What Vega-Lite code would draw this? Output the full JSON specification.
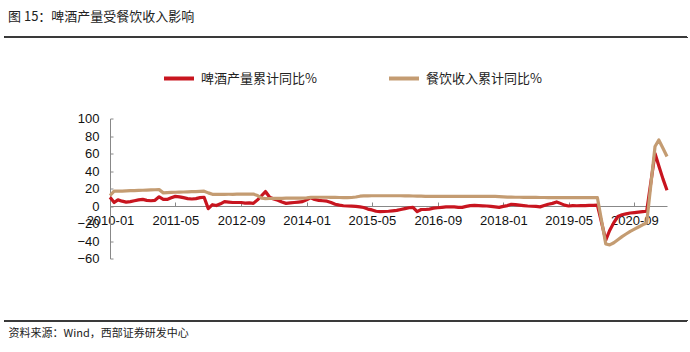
{
  "$schema": "https://vega.github.io/schema/vega-lite/v6.json",
  "autosize": {"type": "none"},
  "width": 557,
  "height": 140,
  "padding": {"left": 110, "top": 118.5, "right": 23, "bottom": 93.5},
  "background": "white",
  "config": {
    "view": {"stroke": null},
    "axis": {"labelOverlap": false, "labelFlush": false, "grid": false}
  },
  "title": {
    "text": "图 15：啤酒产量受餐饮收入影响",
    "anchor": "start",
    "frame": "group",
    "dx": -102,
    "offset": 12,
    "font": "Noto Sans CJK SC",
    "fontSize": 13,
    "fontWeight": "normal",
    "color": "#222222"
  },
  "data": {
    "values": [
      {"d":"2010-01","a":10,"b":12},{"d":"2010-02","a":4,"b":17},{"d":"2010-03","a":7,"b":17},{"d":"2010-04","a":5.5,"b":17.1},{"d":"2010-05","a":4.5,"b":17.3},{"d":"2010-06","a":5,"b":17.5},{"d":"2010-07","a":6,"b":17.6},{"d":"2010-08","a":7,"b":17.8},{"d":"2010-09","a":7.5,"b":18},{"d":"2010-10","a":6.5,"b":18.2},{"d":"2010-11","a":6,"b":18.4},{"d":"2010-12","a":6.5,"b":18.6},
      {"d":"2011-01","a":10.5,"b":18.7},{"d":"2011-02","a":7.5,"b":15},{"d":"2011-03","a":7.5,"b":15.3},{"d":"2011-04","a":9.5,"b":15.5},{"d":"2011-05","a":11,"b":15.7},{"d":"2011-06","a":10.5,"b":15.9},{"d":"2011-07","a":9.5,"b":16},{"d":"2011-08","a":8.5,"b":16.2},{"d":"2011-09","a":8,"b":16.4},{"d":"2011-10","a":8.5,"b":16.5},{"d":"2011-11","a":9.5,"b":16.7},{"d":"2011-12","a":10,"b":16.9},
      {"d":"2012-01","a":-3,"b":15},{"d":"2012-02","a":1.5,"b":13.3},{"d":"2012-03","a":0.5,"b":13.3},{"d":"2012-04","a":2.5,"b":13.3},{"d":"2012-05","a":5,"b":13.3},{"d":"2012-06","a":4.5,"b":13.4},{"d":"2012-07","a":4,"b":13.4},{"d":"2012-08","a":4,"b":13.5},{"d":"2012-09","a":4,"b":13.5},{"d":"2012-10","a":3.2,"b":13.6},{"d":"2012-11","a":3.5,"b":13.6},{"d":"2012-12","a":3,"b":13.6},
      {"d":"2013-01","a":7,"b":12},{"d":"2013-02","a":12,"b":9},{"d":"2013-03","a":16.5,"b":8.5},{"d":"2013-04","a":10,"b":8.6},{"d":"2013-05","a":8,"b":8.7},{"d":"2013-06","a":6.5,"b":8.8},{"d":"2013-07","a":4.5,"b":8.8},{"d":"2013-08","a":3,"b":8.9},{"d":"2013-09","a":3.5,"b":8.9},{"d":"2013-10","a":4,"b":9},{"d":"2013-11","a":4.5,"b":9},{"d":"2013-12","a":5,"b":9},
      {"d":"2014-01","a":7,"b":9.3},{"d":"2014-02","a":9.5,"b":9.8},{"d":"2014-03","a":7.5,"b":10},{"d":"2014-04","a":6.5,"b":10},{"d":"2014-05","a":6,"b":10},{"d":"2014-06","a":5.5,"b":10},{"d":"2014-07","a":4,"b":9.9},{"d":"2014-08","a":2,"b":9.8},{"d":"2014-09","a":1,"b":9.7},{"d":"2014-10","a":0.3,"b":9.6},{"d":"2014-11","a":0,"b":9.6},{"d":"2014-12","a":-0.2,"b":9.7},
      {"d":"2015-01","a":-0.5,"b":10.3},{"d":"2015-02","a":-1,"b":11.2},{"d":"2015-03","a":-1.7,"b":11.5},{"d":"2015-04","a":-3.5,"b":11.6},{"d":"2015-05","a":-4.5,"b":11.7},{"d":"2015-06","a":-6,"b":11.7},{"d":"2015-07","a":-6.5,"b":11.7},{"d":"2015-08","a":-6.3,"b":11.7},{"d":"2015-09","a":-6,"b":11.7},{"d":"2015-10","a":-5.5,"b":11.7},{"d":"2015-11","a":-5,"b":11.7},{"d":"2015-12","a":-4,"b":11.7},
      {"d":"2016-01","a":-3,"b":11.6},{"d":"2016-02","a":-2,"b":11.5},{"d":"2016-03","a":-1.5,"b":11.4},{"d":"2016-04","a":-6.5,"b":11.3},{"d":"2016-05","a":-4,"b":11.2},{"d":"2016-06","a":-4,"b":11.1},{"d":"2016-07","a":-3.5,"b":11.1},{"d":"2016-08","a":-2.5,"b":11},{"d":"2016-09","a":-2,"b":11},{"d":"2016-10","a":-1.5,"b":11},{"d":"2016-11","a":-1,"b":11},{"d":"2016-12","a":-1,"b":11},
      {"d":"2017-01","a":-1,"b":11},{"d":"2017-02","a":-1.5,"b":11},{"d":"2017-03","a":-1.5,"b":11},{"d":"2017-04","a":-0.5,"b":11},{"d":"2017-05","a":0.5,"b":11},{"d":"2017-06","a":0.8,"b":11},{"d":"2017-07","a":0.5,"b":11},{"d":"2017-08","a":0.2,"b":11},{"d":"2017-09","a":0,"b":11},{"d":"2017-10","a":-0.5,"b":11},{"d":"2017-11","a":-1,"b":10.9},{"d":"2017-12","a":-1.5,"b":10.8},
      {"d":"2018-01","a":-0.5,"b":10.5},{"d":"2018-02","a":0.5,"b":10.2},{"d":"2018-03","a":2,"b":10.1},{"d":"2018-04","a":1.5,"b":10},{"d":"2018-05","a":1,"b":10},{"d":"2018-06","a":0.5,"b":9.9},{"d":"2018-07","a":0,"b":9.9},{"d":"2018-08","a":-0.3,"b":9.8},{"d":"2018-09","a":-0.5,"b":9.8},{"d":"2018-10","a":-1,"b":9.7},{"d":"2018-11","a":0.5,"b":9.7},{"d":"2018-12","a":2,"b":9.6},
      {"d":"2019-01","a":3,"b":9.6},{"d":"2019-02","a":4.7,"b":9.6},{"d":"2019-03","a":3,"b":9.6},{"d":"2019-04","a":1,"b":9.6},{"d":"2019-05","a":0,"b":9.6},{"d":"2019-06","a":0.5,"b":9.6},{"d":"2019-07","a":0.3,"b":9.6},{"d":"2019-08","a":0.5,"b":9.6},{"d":"2019-09","a":0.5,"b":9.6},{"d":"2019-10","a":0.7,"b":9.6},{"d":"2019-11","a":0.8,"b":9.6},{"d":"2019-12","a":1,"b":9.5},
      {"d":"2020-02","a":-39,"b":-43.3},{"d":"2020-03","a":-28,"b":-44.5},{"d":"2020-04","a":-19,"b":-42},{"d":"2020-05","a":-12,"b":-38.5},{"d":"2020-06","a":-10,"b":-35},{"d":"2020-07","a":-9,"b":-32},{"d":"2020-08","a":-8,"b":-29},{"d":"2020-09","a":-7.5,"b":-26.5},{"d":"2020-10","a":-7,"b":-24},{"d":"2020-11","a":-6.5,"b":-21.5},{"d":"2020-12","a":-6,"b":-19.5},
      {"d":"2021-02","a":60,"b":68},{"d":"2021-03","a":46,"b":75.5},{"d":"2021-04","a":31,"b":66},{"d":"2021-05","a":18,"b":56.5}
    ]
  },
  "layer": [
    {
      "transform": [{"fold": ["a", "b"], "as": ["s", "v"]}],
      "mark": {"type": "line", "strokeWidth": 3.2, "strokeJoin": "round"},
      "encoding": {
        "x": {
          "field": "d",
          "type": "temporal",
          "scale": {"domain": [{"year": 2010, "month": 1, "date": 1}, {"year": 2021, "month": 5, "date": 1}], "nice": false},
          "axis": {
            "title": "资料来源：Wind，西部证券研发中心",
            "titleFont": "Noto Sans CJK SC",
            "titleFontSize": 11,
            "titleFontWeight": "normal",
            "titleColor": "#222222",
            "titleAlign": "left",
            "titleAnchor": "start",
            "titleBaseline": "middle",
            "titleX": -102,
            "titleY": 127,
            "values": [
              {"year": 2010, "month": 1, "date": 1},
              {"year": 2011, "month": 5, "date": 1},
              {"year": 2012, "month": 9, "date": 1},
              {"year": 2014, "month": 1, "date": 1},
              {"year": 2015, "month": 5, "date": 1},
              {"year": 2016, "month": 9, "date": 1},
              {"year": 2018, "month": 1, "date": 1},
              {"year": 2019, "month": 5, "date": 1},
              {"year": 2020, "month": 9, "date": 1}
            ],
            "tickCount": 20,
            "format": "%Y-%m",
            "formatType": "time",
            "offset": -52.5,
            "grid": false,
            "domainColor": "#888888",
            "tickColor": "#888888",
            "tickSize": -4,
            "labelPadding": 12,
            "labelFont": "Liberation Sans",
            "labelFontSize": 13,
            "labelColor": "#111111",
            "labelFlush": false,
            "labelOverlap": false
          }
        },
        "y": {
          "field": "v",
          "type": "quantitative",
          "scale": {"domain": [-60, 100], "nice": false, "zero": false},
          "axis": {
            "title": null,
            "values": [-60, -40, -20, 0, 20, 40, 60, 80, 100],
            "tickCount": 10,
            "grid": false,
            "domainColor": "#888888",
            "tickColor": "#888888",
            "tickSize": -3,
            "labelPadding": 14,
            "labelFont": "Liberation Sans",
            "labelFontSize": 13,
            "labelColor": "#111111",
            "labelFlush": false,
            "labelOverlap": false
          }
        },
        "color": {
          "field": "s",
          "type": "nominal",
          "scale": {"domain": ["a", "b"], "range": ["#C8151F", "#C49C72"]},
          "legend": {
            "title": null,
            "orient": "none",
            "legendX": 52,
            "legendY": -57,
            "direction": "horizontal",
            "symbolType": "stroke",
            "symbolSize": 900,
            "symbolStrokeWidth": 4,
            "columnPadding": 64,
            "labelOffset": 5,
            "labelFont": "Noto Sans CJK SC",
            "labelFontSize": 13,
            "labelColor": "#222222",
            "labelExpr": "datum.value == 'a' ? '啤酒产量累计同比%' : '餐饮收入累计同比%'"
          }
        }
      }
    },
    {
      "mark": {"type": "rule", "color": "#3a3a3a", "strokeWidth": 1.5, "clip": false},
      "encoding": {
        "x": {"datum": {"year": 2007, "month": 11, "date": 12}, "type": "temporal"},
        "x2": {"datum": {"year": 2021, "month": 9, "date": 27}},
        "y": {"datum": 193, "type": "quantitative"}
      }
    },
    {
      "mark": {"type": "rule", "color": "#3a3a3a", "strokeWidth": 1.5, "clip": false},
      "encoding": {
        "x": {"datum": {"year": 2007, "month": 11, "date": 12}, "type": "temporal"},
        "x2": {"datum": {"year": 2021, "month": 9, "date": 27}},
        "y": {"datum": -131, "type": "quantitative"}
      }
    }
  ]
}
